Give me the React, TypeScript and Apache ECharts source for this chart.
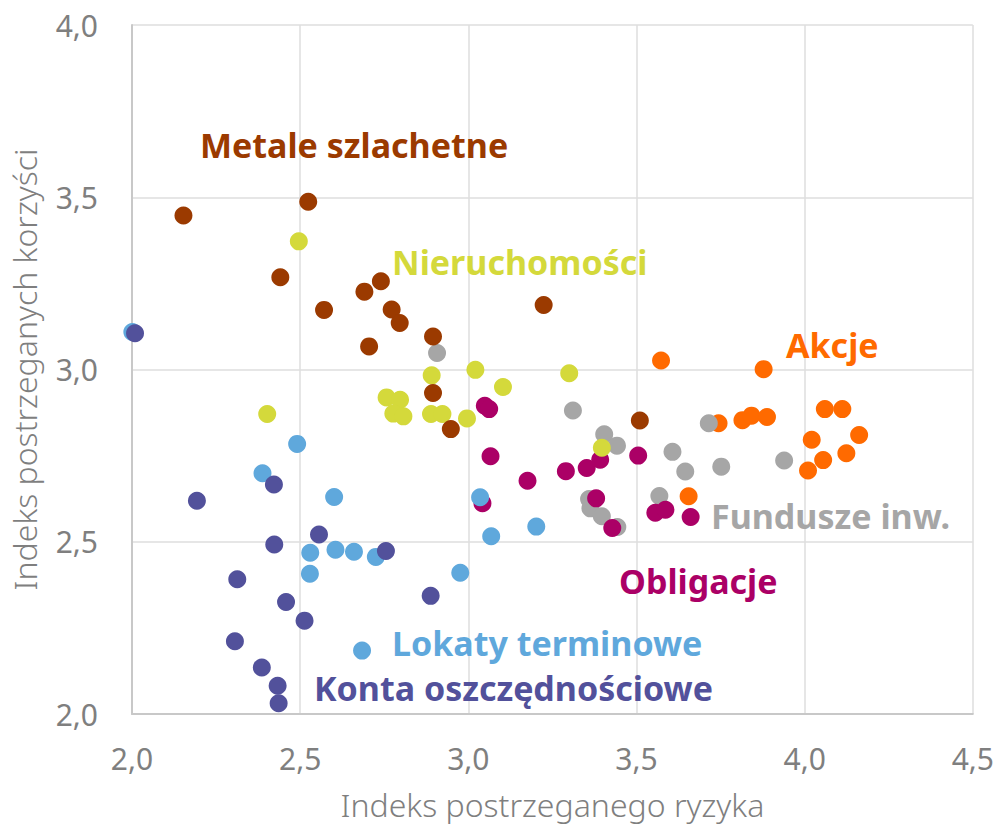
import React, { useEffect, useRef } from "react";
import * as echarts from "echarts";

const metale: number[][] = [
  [2.153, 3.447], [2.524, 3.487], [2.441, 3.268], [2.571, 3.173], [2.691, 3.226],
  [2.740, 3.256], [2.772, 3.174], [2.796, 3.135], [2.705, 3.067], [3.224, 3.187],
  [2.895, 3.096], [2.895, 2.932], [2.948, 2.827], [3.510, 2.852],
];
const nieruchomosci: number[][] = [
  [2.496, 3.372], [2.402, 2.871], [3.021, 2.999], [2.891, 2.983], [3.300, 2.989],
  [3.103, 2.949], [2.757, 2.919], [2.797, 2.912], [2.777, 2.872], [2.807, 2.864],
  [2.889, 2.871], [2.923, 2.871], [2.996, 2.858], [3.397, 2.773],
];
const fundusze: number[][] = [
  [2.907, 3.048], [3.311, 2.881], [3.404, 2.812], [3.442, 2.779], [3.607, 2.761],
  [3.645, 2.704], [3.752, 2.718], [3.715, 2.844], [3.939, 2.736], [3.568, 2.633],
  [3.359, 2.624], [3.363, 2.597], [3.397, 2.574], [3.443, 2.543],
];
const akcje: number[][] = [
  [3.573, 3.026], [3.878, 3.001], [3.744, 2.844], [3.815, 2.853], [3.842, 2.866],
  [3.888, 2.862], [4.060, 2.885], [4.112, 2.885], [4.162, 2.810], [4.021, 2.796],
  [4.124, 2.757], [4.055, 2.737], [4.010, 2.707], [3.655, 2.632],
];
const obligacje: number[][] = [
  [3.049, 2.895], [3.062, 2.885], [3.066, 2.748], [3.176, 2.677], [3.290, 2.705],
  [3.352, 2.714], [3.392, 2.738], [3.505, 2.750], [3.380, 2.626], [3.428, 2.540],
  [3.042, 2.612], [3.556, 2.584], [3.586, 2.593], [3.661, 2.572],
];
const lokaty: number[][] = [
  [2.001, 3.109], [2.491, 2.784], [2.388, 2.699], [2.601, 2.630], [2.530, 2.468],
  [2.605, 2.477], [2.660, 2.471], [2.725, 2.456], [2.529, 2.407], [2.684, 2.184],
  [2.976, 2.410], [3.035, 2.629], [3.068, 2.516], [3.202, 2.544],
];
const konta: number[][] = [
  [2.009, 3.105], [2.193, 2.619], [2.422, 2.666], [2.423, 2.492], [2.556, 2.521],
  [2.755, 2.473], [2.313, 2.391], [2.458, 2.325], [2.513, 2.271], [2.306, 2.211],
  [2.386, 2.135], [2.433, 2.082], [2.436, 2.031], [2.888, 2.343],
];

const seriesNames = [
  "Akcje", "Fundusze inw.", "Obligacje", "Nieruchomości", "Metale szlachetne",
  "Lokaty terminowe", "Konta oszczędnościowe",
];
const seriesColors = ["#FF6A00", "#A6A6A6", "#AB0066", "#D4D93B", "#9B3A00", "#5FA8DC", "#52519B"];
const seriesData = [akcje, fundusze, obligacje, nieruchomosci, metale, lokaty, konta];

const xTicks = { min: 2, max: 4.5, interval: 0.5 };
const yTicks = { min: 2, max: 4, interval: 0.5 };

const labelPos: Record<string, [number, number]> = {
  "Metale szlachetne": [200, 145],
  "Nieruchomości": [392, 262],
  "Akcje": [786, 345],
  "Fundusze inw.": [711, 516],
  "Obligacje": [619, 581],
  "Lokaty terminowe": [392, 643],
  "Konta oszczędnościowe": [314, 688],
};

export default function App() {
  const ref = useRef<HTMLDivElement>(null);
  useEffect(() => {
    if (!ref.current) return;
    const chart = echarts.init(ref.current, null, { renderer: "svg" });
    const fmt = (v: number) => v.toFixed(1).replace(".", ",");
    chart.setOption({
      animation: false,
      backgroundColor: "#ffffff",
      grid: { left: 131.5, right: 23, top: 25, bottom: 109.3, containLabel: false },
      xAxis: {
        type: "value",
        ...xTicks,
        name: "Indeks postrzeganego ryzyka",
        nameLocation: "middle",
        nameGap: 74,
        nameTextStyle: { color: "#7f7f7f", fontSize: 32, fontFamily: "Noto Sans", fontWeight: 300 },
        axisLine: { show: true, lineStyle: { color: "#c8c8c8", width: 2 } },
        axisTick: { show: false },
        splitLine: { show: true, lineStyle: { color: "#dedede", width: 1.5 } },
        axisLabel: { formatter: fmt, color: "#7f7f7f", fontSize: 30, fontFamily: "Noto Sans", margin: 29 },
      },
      yAxis: {
        type: "value",
        ...yTicks,
        name: "Indeks postrzeganych korzyści",
        nameLocation: "middle",
        nameGap: 92,
        nameTextStyle: { color: "#7f7f7f", fontSize: 32, fontFamily: "Noto Sans", fontWeight: 300 },
        axisLine: { show: true, lineStyle: { color: "#c8c8c8", width: 2 } },
        axisTick: { show: false },
        splitLine: { show: true, lineStyle: { color: "#dedede", width: 1.5 } },
        axisLabel: { formatter: fmt, color: "#7f7f7f", fontSize: 30, fontFamily: "Noto Sans", margin: 34 },
      },
      series: seriesNames.map((name, i) => ({
        name,
        type: "scatter",
        data: seriesData[i],
        symbol: "circle",
        symbolSize: 18,
        itemStyle: { color: seriesColors[i], opacity: 1 },
        z: 2 + i,
      })),
      graphic: seriesNames.map((name, i) => ({
        type: "text",
        x: labelPos[name][0],
        y: labelPos[name][1],
        z: 100,
        style: {
          text: name,
          fill: seriesColors[i],
          fontSize: 34,
          fontWeight: "bold",
          fontFamily: "Noto Sans",
          textVerticalAlign: "middle",
          verticalAlign: "middle",
        },
      })),
    });
    return () => chart.dispose();
  }, []);
  return <div ref={ref} style={{ position: "fixed", left: 0, top: 0, width: 997, height: 825 }} />;
}
